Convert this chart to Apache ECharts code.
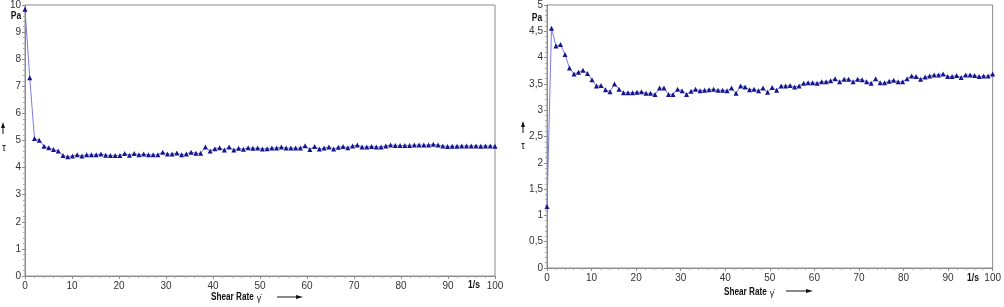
<!DOCTYPE html>
<html>
<head>
<meta charset="utf-8">
<script src="https://cdn.jsdelivr.net/npm/echarts@6/dist/echarts.min.js"></script>
<style>
  html, body { margin: 0; padding: 0; background: #fff; }
  #main { width: 1004px; height: 307px; }
</style>
</head>
<body>
<div id="main"></div>
<script>
// shear rate steps (1/s), same grid for both measurements
var shearRate = [0, 1.01, 2.02, 3.03, 4.04, 5.05, 6.06, 7.07, 8.08, 9.09,
  10.1, 11.11, 12.12, 13.13, 14.14, 15.15, 16.16, 17.17, 18.18, 19.19,
  20.2, 21.21, 22.22, 23.23, 24.24, 25.25, 26.26, 27.27, 28.28, 29.29,
  30.3, 31.31, 32.32, 33.33, 34.34, 35.35, 36.36, 37.37, 38.38, 39.39,
  40.4, 41.41, 42.42, 43.43, 44.44, 45.45, 46.46, 47.47, 48.48, 49.49,
  50.51, 51.52, 52.53, 53.54, 54.55, 55.56, 56.57, 57.58, 58.59, 59.6,
  60.61, 61.62, 62.63, 63.64, 64.65, 65.66, 66.67, 67.68, 68.69, 69.7,
  70.71, 71.72, 72.73, 73.74, 74.75, 75.76, 76.77, 77.78, 78.79, 79.8,
  80.81, 81.82, 82.83, 83.84, 84.85, 85.86, 86.87, 87.88, 88.89, 89.9,
  90.91, 91.92, 92.93, 93.94, 94.95, 95.96, 96.97, 97.98, 98.99, 100];

// shear stress tau (Pa), left measurement
var tauLeft = [9.84, 7.32, 5.07, 5.01, 4.79, 4.73, 4.67, 4.61, 4.45, 4.40,
  4.43, 4.47, 4.43, 4.47, 4.47, 4.47, 4.50, 4.46, 4.45, 4.45,
  4.45, 4.52, 4.46, 4.52, 4.47, 4.50, 4.47, 4.47, 4.47, 4.57,
  4.50, 4.50, 4.54, 4.47, 4.50, 4.57, 4.53, 4.53, 4.76, 4.61,
  4.70, 4.73, 4.65, 4.76, 4.65, 4.71, 4.68, 4.73, 4.71, 4.72,
  4.69, 4.70, 4.72, 4.72, 4.76, 4.72, 4.72, 4.72, 4.72, 4.81,
  4.67, 4.78, 4.69, 4.72, 4.76, 4.69, 4.75, 4.78, 4.73, 4.80,
  4.83, 4.76, 4.76, 4.78, 4.76, 4.76, 4.80, 4.83, 4.82, 4.82,
  4.82, 4.82, 4.83, 4.83, 4.83, 4.83, 4.86, 4.83, 4.80, 4.78,
  4.79, 4.79, 4.80, 4.80, 4.80, 4.80, 4.79, 4.80, 4.80, 4.79];

// shear stress tau (Pa), right measurement
var tauRight = [1.17, 4.56, 4.22, 4.25, 4.06, 3.80, 3.69, 3.72, 3.76, 3.70,
  3.58, 3.46, 3.47, 3.39, 3.35, 3.50, 3.40, 3.33, 3.33, 3.33,
  3.34, 3.35, 3.32, 3.32, 3.30, 3.42, 3.42, 3.30, 3.30, 3.40,
  3.37, 3.30, 3.36, 3.40, 3.37, 3.38, 3.39, 3.40, 3.38, 3.38,
  3.37, 3.42, 3.32, 3.46, 3.44, 3.39, 3.40, 3.37, 3.42, 3.34,
  3.43, 3.38, 3.46, 3.46, 3.47, 3.44, 3.46, 3.51, 3.52, 3.52,
  3.51, 3.54, 3.54, 3.56, 3.60, 3.54, 3.59, 3.59, 3.54, 3.59,
  3.58, 3.54, 3.51, 3.60, 3.52, 3.52, 3.55, 3.57, 3.54, 3.54,
  3.60, 3.65, 3.64, 3.59, 3.63, 3.65, 3.67, 3.67, 3.69, 3.64,
  3.64, 3.66, 3.62, 3.67, 3.67, 3.66, 3.64, 3.65, 3.65, 3.69];

var xTicks = [0, 100, 10];        // min, max, interval
var yTicksLeft = [0, 10, 1];
var yTicksRight = [0, 5, 0.5];

function pairs(xs, ys) {
  return ys.map(function (v, i) { return [xs[i], v]; });
}

var font = 'Liberation Sans, Arial, sans-serif';
var axisGrey = '#8c8c8c';

function xAxis(idx) {
  return {
    type: 'value', gridIndex: idx,
    min: xTicks[0], max: xTicks[1], interval: xTicks[2],
    axisLine: { show: true, lineStyle: { color: axisGrey } },
    axisTick: { show: true, length: 3, lineStyle: { color: axisGrey } },
    minorTick: { show: true, splitNumber: 5, length: 2, lineStyle: { color: '#aaa' } },
    splitLine: { show: false },
    axisLabel: { color: '#333', fontSize: 10, fontFamily: font, margin: 5 }
  };
}

function yAxis(idx, t, comma) {
  return {
    type: 'value', gridIndex: idx,
    min: t[0], max: t[1], interval: t[2],
    axisLine: { show: true, lineStyle: { color: axisGrey } },
    axisTick: { show: true, length: 3, lineStyle: { color: axisGrey } },
    minorTick: { show: true, splitNumber: 5, length: 2, lineStyle: { color: '#aaa' } },
    splitLine: { show: false },
    axisLabel: { color: '#333', fontSize: 10, fontFamily: font, margin: 4,
      formatter: function (v) { return comma ? String(v).replace('.', ',') : String(v); } }
  };
}

function series(idx, data) {
  return {
    type: 'line', xAxisIndex: idx, yAxisIndex: idx,
    data: data,
    symbol: 'triangle', symbolSize: 5,
    itemStyle: { color: '#14148c' },
    lineStyle: { color: '#7b7be0', width: 1 },
    animation: false
  };
}

// sx squeezes the bold captions a bit, the original uses a narrow face
function txt(x, y, s, bold, size, align, sx) {
  return { type: 'text', x: x, y: y, scaleX: sx || 1, style: {
    text: s, fill: '#111', font: (bold ? 'bold ' : '') + (size || 10) + 'px ' + font,
    textAlign: align || 'left', textVerticalAlign: 'middle' } };
}

function arrowRight(x1, x2, y) {
  return [
    { type: 'line', shape: { x1: x1, y1: y, x2: x2 - 6, y2: y }, style: { stroke: '#111', lineWidth: 1 } },
    { type: 'polygon', shape: { points: [[x2 - 7, y - 2], [x2, y], [x2 - 7, y + 2]] }, style: { fill: '#111' } }
  ];
}

function arrowUp(x, y1, y2) {
  return [
    { type: 'line', shape: { x1: x, y1: y2, x2: x, y2: y1 + 5 }, style: { stroke: '#111', lineWidth: 1 } },
    { type: 'polygon', shape: { points: [[x - 2, y1 + 6], [x, y1], [x + 2, y1 + 6]] }, style: { fill: '#111' } }
  ];
}

var chart = echarts.init(document.getElementById('main'));

var graphics = [
  txt(16, 16, 'Pa', true, 10, 'center', 0.85),
  txt(4, 148, 'τ', false, 10, 'center'),
  txt(211, 297, 'Shear Rate', true, 10, 'left', 0.82),
  txt(259, 299, 'γ̇', false, 9, 'center'),
  txt(474, 285, '1/s', true, 10, 'center', 0.85),
  txt(537, 18, 'Pa', true, 10, 'center', 0.85),
  txt(523, 146, 'τ', false, 10, 'center'),
  txt(724, 292, 'Shear Rate', true, 10, 'left', 0.82),
  txt(772, 294, 'γ̇', false, 9, 'center'),
  txt(973, 278, '1/s', true, 10, 'center', 0.85)
].concat(arrowUp(3, 122, 134), arrowUp(523, 121, 133),
  arrowRight(277, 303, 297), arrowRight(786, 813, 291));

chart.setOption({
  backgroundColor: '#fff',
  animation: false,
  grid: [
    { left: 25, right: 509, top: 3, bottom: 31, show: true, borderColor: axisGrey, borderWidth: 1 },
    { left: 547, right: 7, top: 5, bottom: 39, show: true, borderColor: axisGrey, borderWidth: 1 }
  ],
  xAxis: [xAxis(0), xAxis(1)],
  yAxis: [yAxis(0, yTicksLeft, false), yAxis(1, yTicksRight, true)],
  series: [series(0, pairs(shearRate, tauLeft)), series(1, pairs(shearRate, tauRight))],
  graphic: graphics
});
</script>
</body>
</html>
